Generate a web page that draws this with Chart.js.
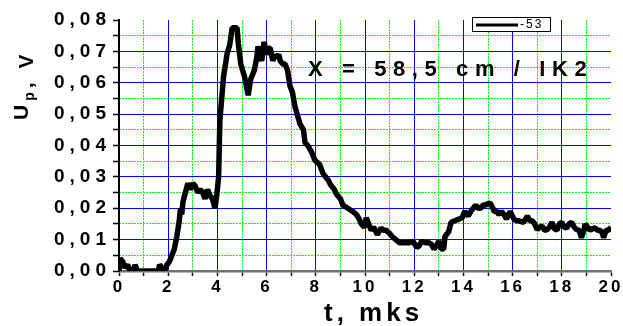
<!DOCTYPE html>
<html>
<head>
<meta charset="utf-8">
<script src="https://cdn.jsdelivr.net/npm/chart.js@4/dist/chart.umd.min.js"></script>
<style>
  html, body { margin: 0; background: #fff; }
</style>
</head>
<body>
<canvas id="chart" width="623" height="326"></canvas>
<script>
// time, mks
const tData = [
  0.00, 0.05, 0.15, 0.25, 0.35, 0.45, 0.60, 0.65, 0.75, 1.00, 1.30, 1.60, 1.65, 1.75, 1.85, 1.95,
  2.05, 2.15, 2.25, 2.35, 2.45, 2.50, 2.55, 2.60, 2.70, 2.80, 2.90, 3.00, 3.10, 3.20, 3.30, 3.40,
  3.50, 3.60, 3.70, 3.80, 3.90, 3.97, 4.05, 4.10, 4.25, 4.40, 4.50, 4.60, 4.70, 4.80, 4.85, 4.95,
  5.10, 5.25, 5.35, 5.50, 5.60, 5.65, 5.75, 5.80, 5.90, 6.00, 6.10, 6.15, 6.25, 6.35, 6.40, 6.50,
  6.55, 6.65, 6.75, 6.85, 6.95, 7.05, 7.15, 7.35, 7.50, 7.56, 7.70, 7.84, 7.95, 8.00, 8.15, 8.30,
  8.50, 8.60, 8.75, 8.85, 9.00, 9.10, 9.30, 9.50, 9.65, 9.77, 9.85, 9.98, 10.05, 10.10, 10.25, 10.35,
  10.50, 10.65, 10.75, 10.85, 11.00, 11.10, 11.25, 11.40, 11.60, 11.80, 11.95, 12.10, 12.20, 12.30, 12.45, 12.60,
  12.70, 12.80, 12.90, 13.00, 13.10, 13.20, 13.25, 13.40, 13.50, 13.65, 13.85, 13.95, 14.05, 14.20, 14.30, 14.40,
  14.50, 14.60, 14.70, 14.80, 14.90, 15.00, 15.10, 15.20, 15.25, 15.35, 15.45, 15.55, 15.65, 15.75, 15.90, 16.05,
  16.15, 16.25, 16.45, 16.60, 16.70, 16.80, 16.90, 17.00, 17.10, 17.20, 17.30, 17.40, 17.50, 17.60, 17.70, 17.80,
  17.90, 18.00, 18.10, 18.20, 18.30, 18.40, 18.50, 18.60, 18.70, 18.80, 18.90, 18.95, 19.05, 19.15, 19.25, 19.35,
  19.45, 19.55, 19.65, 19.70, 19.80, 19.90, 20.00
]
// Up, V
const uData = [
  0.000, 0.004, 0.003, 0.001, 0.002, 0.000, 0.000, 0.002, 0.000, 0.000, 0.000, 0.000, 0.002, 0.001, 0.000, 0.002,
  0.003, 0.005, 0.007, 0.011, 0.016, 0.020, 0.018, 0.022, 0.025, 0.028, 0.026, 0.028, 0.027, 0.025, 0.026, 0.025,
  0.023, 0.026, 0.024, 0.023, 0.020, 0.024, 0.030, 0.048, 0.062, 0.0695, 0.072, 0.0775, 0.0775, 0.0775, 0.0725, 0.066,
  0.062, 0.056, 0.061, 0.064, 0.068, 0.0716, 0.068, 0.067, 0.073, 0.069, 0.071, 0.071, 0.067, 0.069, 0.068, 0.069,
  0.067, 0.066, 0.066, 0.064, 0.059, 0.057, 0.0525, 0.047, 0.045, 0.041, 0.0397, 0.0377, 0.0355, 0.035, 0.034, 0.031,
  0.029, 0.0275, 0.026, 0.0244, 0.023, 0.021, 0.020, 0.019, 0.018, 0.0165, 0.015, 0.0139, 0.017, 0.016, 0.013, 0.014,
  0.0116, 0.0137, 0.013, 0.013, 0.012, 0.011, 0.010, 0.009, 0.009, 0.009, 0.0095, 0.0075, 0.008, 0.0095, 0.009, 0.009,
  0.0085, 0.007, 0.008, 0.0095, 0.007, 0.007, 0.011, 0.0125, 0.0155, 0.016, 0.0166, 0.017, 0.019, 0.0175, 0.019, 0.020,
  0.021, 0.020, 0.020, 0.021, 0.021, 0.0215, 0.0215, 0.020, 0.019, 0.019, 0.018, 0.019, 0.018, 0.0166, 0.019, 0.0166,
  0.016, 0.016, 0.0155, 0.0175, 0.016, 0.016, 0.015, 0.0132, 0.014, 0.0143, 0.013, 0.0132, 0.014, 0.0155, 0.0135, 0.013,
  0.015, 0.0155, 0.014, 0.0137, 0.015, 0.0155, 0.014, 0.0132, 0.013, 0.0106, 0.013, 0.015, 0.014, 0.013, 0.0135, 0.0137,
  0.013, 0.013, 0.012, 0.0106, 0.013, 0.013, 0.014
]
const seriesLabel = '-53'
const xTickLabels = ['0', '2', '4', '6', '8', '10', '12', '14', '16', '18', '20']
const yTickLabels = ['0,00', '0,01', '0,02', '0,03', '0,04', '0,05', '0,06', '0,07', '0,08']
const xTitle = 't, mks'
const yTitleMain = 'U'
const yTitleSub = 'p'
const yTitleRest = ', V'
const note = 'X = 58,5 cm / IK2'

const FONT = '"Liberation Sans", Arial, sans-serif'
const BLUE = '#0000ff'
const GREEN = '#00ff00'

// letter spacing for tick labels (origin-style spaced digits)
const tickSpacing = { x: '3px', y: '5px' }

const spacedTicks = {
  id: 'spacedTicks',
  beforeDraw (chart) {
    Object.values(chart.scales).forEach(s => {
      if (s._spaced || !tickSpacing[s.id]) return
      const orig = s.drawLabels
      s.drawLabels = function (area) {
        this.ctx.save()
        this.ctx.letterSpacing = tickSpacing[this.id]
        orig.call(this, area)
        this.ctx.restore()
      }
      s._spaced = true
    })
  }
}

const extras = {
  id: 'extras',
  afterDraw (chart) {
    const ctx = chart.ctx
    ctx.save()
    ctx.fillStyle = '#000'
    ctx.textBaseline = 'alphabetic'

    // x title
    ctx.letterSpacing = '4px'
    ctx.font = 'bold 26px ' + FONT
    ctx.textAlign = 'left'
    ctx.fillText(xTitle, 324, 321)

    // y title, rotated, with subscript
    ctx.save()
    ctx.translate(28, 120)
    ctx.rotate(-Math.PI / 2)
    ctx.letterSpacing = '4px'
    ctx.font = 'bold 21px ' + FONT
    ctx.fillText(yTitleMain, 0, 0)
    let u = ctx.measureText(yTitleMain).width
    ctx.font = 'bold 14px ' + FONT
    ctx.fillText(yTitleSub, u, 6)
    u += ctx.measureText(yTitleSub).width
    ctx.font = 'bold 21px ' + FONT
    ctx.fillText(yTitleRest, u, 5)
    ctx.restore()

    // note inside plot
    ctx.letterSpacing = '6.6px'
    ctx.font = 'bold 22px ' + FONT
    ctx.fillText(note, 308, 76)

    // legend box
    ctx.letterSpacing = '2px'
    ctx.fillStyle = '#fff'
    ctx.fillRect(472.5, 17.5, 78, 14)
    ctx.strokeStyle = '#000'
    ctx.lineWidth = 1
    ctx.strokeRect(472.5, 17.5, 78, 14)
    ctx.beginPath()
    ctx.lineWidth = 3
    ctx.moveTo(476, 25)
    ctx.lineTo(518, 25)
    ctx.stroke()
    ctx.fillStyle = '#000'
    ctx.font = '12px ' + FONT
    ctx.textBaseline = 'middle'
    ctx.fillText(chart.data.datasets[0].label, 520, 25)
    ctx.restore()
  }
}

const points = tData.map((t, i) => ({ x: t, y: uData[i] }))

const isMajorX = v => Math.abs(v % 2) < 1e-6
const isMajorY = v => Math.abs(Math.round(v * 1000) % 10) === 0

new Chart(document.getElementById('chart'), {
  type: 'line',
  data: {
    datasets: [{
      label: seriesLabel,
      data: points,
      xAxisID: 'x',
      yAxisID: 'y',
      borderColor: '#000',
      borderWidth: 5.5,
      borderJoinStyle: 'bevel',
      pointRadius: 0,
      tension: 0,
      fill: false
    }]
  },
  options: {
    responsive: false,
    animation: false,
    devicePixelRatio: 1,
    layout: { padding: { top: 20, right: 12, bottom: 0, left: 0 } },
    plugins: { legend: { display: false }, tooltip: { enabled: false } },
    scales: {
      xm: {
        type: 'linear', position: 'bottom', min: 0, max: 20,
        ticks: { display: false, stepSize: 1 },
        grid: {
          z: -2, drawTicks: false, lineWidth: 1,
          color: c => (c.tick && c.tick.value > 0 && c.tick.value < 20) ? GREEN : 'rgba(0,0,0,0)'
        },
        border: { display: false, dash: [2, 1] },
        afterFit: s => { s.height = 0 }
      },
      ym: {
        type: 'linear', position: 'left', min: 0, max: 0.08,
        ticks: { display: false, stepSize: 0.005 },
        grid: {
          z: -2, drawTicks: false, lineWidth: 1,
          color: c => (c.tick && c.tick.value > 0.0001 && c.tick.value < 0.0799) ? GREEN : 'rgba(0,0,0,0)'
        },
        border: { display: false, dash: [2, 1] },
        afterFit: s => { s.width = 0 }
      },
      x: {
        type: 'linear', position: 'bottom', min: 0, max: 20,
        ticks: {
          stepSize: 1, autoSkip: false, maxRotation: 0, padding: 1,
          color: '#000',
          font: { family: FONT, size: 17, weight: 'bold' },
          callback: v => isMajorX(v) ? xTickLabels[Math.round(v / 2)] : ''
        },
        grid: {
          z: -1, lineWidth: 1, tickLength: 5, tickWidth: 1.5, tickColor: '#000',
          color: c => (c.tick && isMajorX(c.tick.value) && c.tick.value > 0 && c.tick.value < 20) ? BLUE : 'rgba(0,0,0,0)'
        },
        border: { display: true, color: '#707070', width: 2.5 },
        afterFit: s => { s.height = 55 }
      },
      y: {
        type: 'linear', position: 'left', min: 0, max: 0.08,
        ticks: {
          stepSize: 0.005, autoSkip: false, padding: 2,
          color: '#000',
          font: { family: FONT, size: 19, weight: 'bold' },
          callback: v => isMajorY(v) ? yTickLabels[Math.round(v * 100)] : ''
        },
        grid: {
          z: -1, lineWidth: 1, tickLength: 6, tickWidth: 1.5, tickColor: '#000',
          color: c => (c.tick && isMajorY(c.tick.value) && c.tick.value > 0.0001 && c.tick.value < 0.0799) ? BLUE : 'rgba(0,0,0,0)'
        },
        border: { display: true, color: '#000', width: 2 },
        afterFit: s => { s.width = 119 }
      }
    }
  },
  plugins: [spacedTicks, extras]
})
</script>
</body>
</html>
